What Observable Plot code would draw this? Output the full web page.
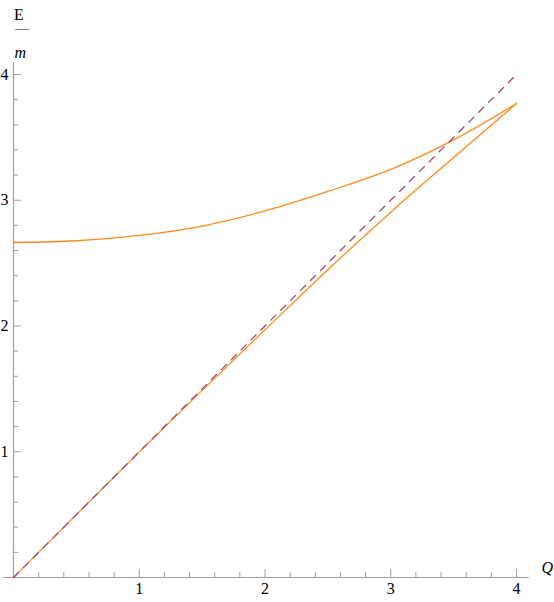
<!DOCTYPE html>
<html>
<head>
<meta charset="utf-8">
<script src="https://cdn.jsdelivr.net/npm/d3@7"></script>
<script src="https://cdn.jsdelivr.net/npm/@observablehq/plot@0.6"></script>
<style>
  html, body { margin: 0; padding: 0; background: #fff; }
</style>
</head>
<body>
<div id="chart"></div>
<script>
// ---- data ----
const Q = [0, 0.5, 1, 1.5, 2, 2.5, 3, 3.5, 4];
const upperE = [2.664, 2.678, 2.72, 2.795, 2.915, 3.07, 3.245, 3.48, 3.769];
const lowerE = [0, 0.5, 0.997, 1.488, 1.97, 2.448, 2.905, 3.34, 3.769];
const diagQ = [0, 4];
const diagE = [0, 4];

const majorTicks = [1, 2, 3, 4];
const tickLabels = ["1", "2", "3", "4"];
const minorTicks = d3.range(1, 21).map(i => +(i * 0.2).toFixed(1)).filter(v => !majorTicks.includes(v));
const domainX = [0, 4];
const domainY = [0, 4];
const axisOvershoot = 0.08;

const orange = "#ff8a18";
const purple = "#9c4a82";
const axisColor = "#a0a0a0";

const upper = Q.map((q, i) => ({q, e: upperE[i]}));
const lower = Q.map((q, i) => ({q, e: lowerE[i]}));
const diag = diagQ.map((q, i) => ({q, e: diagE[i]}));
const fmt = d => tickLabels[majorTicks.indexOf(d)];

const serif = "'Liberation Serif', 'Times New Roman', serif";

const chart = Plot.plot({
  width: 554,
  height: 602,
  marginLeft: 13,
  marginRight: 38,
  marginTop: 74,
  marginBottom: 25,
  style: {fontFamily: serif, fontSize: "16px", background: "#fff", overflow: "visible", color: "#000"},
  x: {domain: domainX, axis: null},
  y: {domain: domainY, axis: null},
  marks: [
    // axis lines
    Plot.ruleY([0], {x1: domainX[0] - axisOvershoot, x2: domainX[1] + axisOvershoot * 1.3, stroke: axisColor, strokeWidth: 1.2}),
    Plot.ruleX([0], {y1: domainY[0] - 0.01, y2: domainY[1] + axisOvershoot * 1.2, stroke: axisColor, strokeWidth: 1.2}),
    // x ticks (pointing inward)
    Plot.axisX(minorTicks, {anchor: "bottom", tickSize: -5, tickFormat: () => "", stroke: axisColor, label: null}),
    Plot.axisX(majorTicks, {anchor: "bottom", tickSize: -8, tickFormat: () => "", stroke: axisColor, label: null}),
    Plot.axisX(majorTicks, {anchor: "bottom", tickSize: 0, tickPadding: 5, tickFormat: fmt, fontSize: 16, fontFamily: serif, fontVariant: "normal", fill: "#000", label: null}),
    // y ticks
    Plot.axisY(minorTicks, {anchor: "left", tickSize: -5, tickFormat: () => "", stroke: axisColor, label: null}),
    Plot.axisY(majorTicks, {anchor: "left", tickSize: -8, tickFormat: () => "", stroke: axisColor, label: null}),
    Plot.axisY(majorTicks, {anchor: "left", tickSize: 0, tickPadding: 5, tickFormat: fmt, fontSize: 16, fontFamily: serif, fontVariant: "normal", fill: "#000", label: null}),
    // curves
    Plot.line(upper, {x: "q", y: "e", stroke: orange, strokeWidth: 1.3, curve: "monotone-x"}),
    Plot.line(lower, {x: "q", y: "e", stroke: orange, strokeWidth: 1.3, curve: "monotone-x"}),
    Plot.line(diag, {x: "q", y: "e", stroke: purple, strokeWidth: 1.3, strokeDasharray: "7,7"}),
    // axis labels
    Plot.text(["E"], {frameAnchor: "top-left", dx: 0.5, dy: -66, fontSize: 16, fontFamily: serif, fill: "#000"}),
    Plot.text(["\u2014"], {frameAnchor: "top-left", dx: 1.5, dy: -51, fontSize: 14, fontFamily: serif, fill: "#000"}),
    Plot.text(["m"], {frameAnchor: "top-left", dx: 1, dy: -28, fontSize: 16, fontFamily: serif, fontStyle: "italic", fill: "#000"}),
    Plot.text(["Q"], {frameAnchor: "bottom-right", dx: 25, dy: -5, fontSize: 16, fontFamily: serif, fontStyle: "italic", textAnchor: "start", fill: "#000"})
  ]
});
document.getElementById("chart").appendChild(chart);
</script>
</body>
</html>
